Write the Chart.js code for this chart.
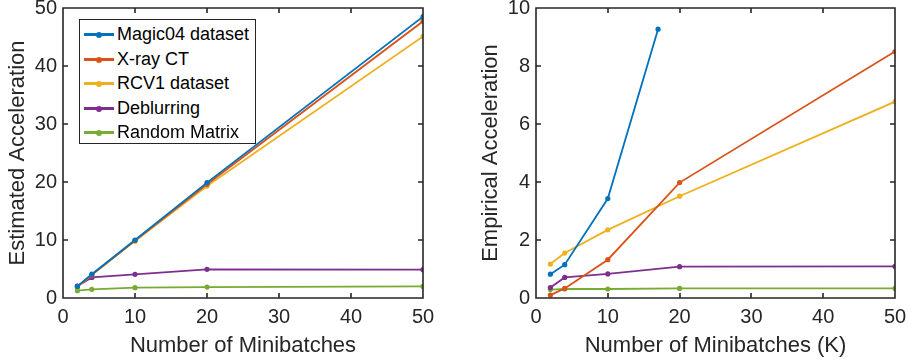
<!DOCTYPE html>
<html lang="en">
<head>
    <meta charset="UTF-8">
    <title>Minibatch acceleration</title>
    <style>
        body { margin: 0; background: #fff; }
        .wrap { position: relative; width: 908px; height: 364px; }
        .box { position: absolute; top: 0; width: 454px; height: 364px; }
        #legend {
            position: absolute; left: 79px; top: 19px; width: 177px; height: 125px;
            border: 1px solid #262626; background: #fff;
            font-family: "Liberation Sans", Arial, sans-serif; font-size: 18px; color: #000;
            box-sizing: border-box; padding-top: 2px;
        }
        #legend .row { position: relative; height: 24.5px; line-height: 24.5px; padding-left: 37px; white-space: nowrap; }
        #legend .ln { position: absolute; left: 4px; top: 11px; width: 30px; height: 3px; }
        #legend .dot { position: absolute; left: 16px; top: 10px; width: 6px; height: 6px; border-radius: 3px; }
    </style>
</head>
<body>
    <div class="wrap">
        <div class="box" style="left:0"><canvas id="chartEst"></canvas></div>
        <div class="box" style="left:454px"><canvas id="chartEmp"></canvas></div>
        <div id="legend"></div>
    </div>
    <script src="https://cdn.jsdelivr.net/npm/chart.js"></script>
    <script>
        // 資料
        const names = ['Magic04 dataset', 'X-ray CT', 'RCV1 dataset', 'Deblurring', 'Random Matrix'];
        const colors = ['#0072BD', '#D95319', '#EDB120', '#7E2F8E', '#77AC30'];
        const batches = [2, 4, 10, 20, 50];
        const batchesMagic = [2, 4, 10, 17];

        // estimated acceleration (left)
        const estMagic = [2.0, 4.1, 10.0, 19.9, 48.5];
        const estXray = [2.0, 4.0, 9.9, 19.6, 47.7];
        const estRcv1 = [1.9, 4.0, 9.8, 19.3, 45.1];
        const estDeblur = [2.05, 3.55, 4.08, 4.94, 4.88];
        const estRandom = [1.26, 1.49, 1.78, 1.89, 2.0];

        // empirical acceleration (right)
        const empMagic = [0.82, 1.15, 3.43, 9.27];
        const empXray = [0.1, 0.33, 1.32, 3.98, 8.5];
        const empRcv1 = [1.17, 1.55, 2.35, 3.51, 6.77];
        const empDeblur = [0.36, 0.71, 0.83, 1.08, 1.09];
        const empRandom = [0.29, 0.31, 0.31, 0.33, 0.33];

        const xTicks = [0, 10, 20, 30, 40, 50];
        const FONT = '"Liberation Sans", Arial, sans-serif';
        const AXIS = '#262626';

        function pts(xs, ys) {
            return ys.map(function (v, i) { return { x: xs[i], y: v }; });
        }

        function makeSets(series) {
            return series.map(function (s, i) {
                return {
                    label: names[i],
                    data: pts(s.x, s.y),
                    borderColor: colors[i],
                    backgroundColor: colors[i],
                    borderWidth: 1.8,
                    pointRadius: 2.6,
                    pointBorderWidth: 0,
                    tension: 0
                };
            });
        }

        // MATLAB風格的外框和內側刻度
        const frame = {
            id: 'frame',
            afterDraw(chart) {
                const { ctx, chartArea: a, scales: { x, y } } = chart;
                const L = Math.round(a.left), R = Math.round(a.right);
                const T = Math.round(a.top), B = Math.round(a.bottom);
                const len = 5;
                ctx.save();
                ctx.strokeStyle = AXIS;
                ctx.lineWidth = 1.6;
                ctx.beginPath();
                ctx.rect(L, T, R - L, B - T);
                x.ticks.forEach(function (t) {
                    const px = Math.round(x.getPixelForValue(t.value));
                    ctx.moveTo(px, B); ctx.lineTo(px, B - len);
                    ctx.moveTo(px, T); ctx.lineTo(px, T + len);
                });
                y.ticks.forEach(function (t) {
                    const py = Math.round(y.getPixelForValue(t.value));
                    ctx.moveTo(L, py); ctx.lineTo(L + len, py);
                    ctx.moveTo(R, py); ctx.lineTo(R - len, py);
                });
                ctx.stroke();
                ctx.restore();
            }
        };

        function makeChart(id, sets, yMax, yStep, yTitle, xTitle, yWidth, padRight, yTitlePad) {
            return new Chart(document.getElementById(id), {
                type: 'line',
                data: { datasets: sets },
                plugins: [frame],
                options: {
                    responsive: false,
                    animation: false,
                    layout: { padding: { top: 8, right: padRight, left: 0, bottom: 0 } },
                    plugins: { legend: { display: false }, tooltip: { enabled: false } },
                    scales: {
                        x: {
                            type: 'linear', min: 0, max: 50,
                            afterBuildTicks: function (s) { s.ticks = xTicks.map(function (v) { return { value: v }; }); },
                            grid: { display: false, drawTicks: false }, border: { display: false },
                            ticks: { color: AXIS, padding: 7, maxRotation: 0, font: { family: FONT, size: 20 } },
                            title: { display: true, text: xTitle, color: AXIS, padding: { top: 0, bottom: 5 }, font: { family: FONT, size: 22 } },
                            afterFit: function (s) { s.height = 66; s.paddingLeft = 0; s.paddingRight = 0; }
                        },
                        y: {
                            min: 0, max: yMax,
                            grid: { display: false, drawTicks: false }, border: { display: false },
                            ticks: { stepSize: yStep, color: AXIS, padding: 6, font: { family: FONT, size: 20 } },
                            title: { display: true, text: yTitle, color: AXIS, padding: { top: yTitlePad, bottom: 0 }, font: { family: FONT, size: 22 } },
                            afterFit: function (s) { s.width = yWidth; s.paddingTop = 0; s.paddingBottom = 0; }
                        }
                    }
                }
            });
        }

        const c1 = document.getElementById('chartEst');
        c1.width = 454; c1.height = 364;
        const c2 = document.getElementById('chartEmp');
        c2.width = 454; c2.height = 364;

        makeChart('chartEst', makeSets([
            { x: batches, y: estMagic },
            { x: batches, y: estXray },
            { x: batches, y: estRcv1 },
            { x: batches, y: estDeblur },
            { x: batches, y: estRandom }
        ]), 50, 10, 'Estimated Acceleration', 'Number of Minibatches', 63, 31, 5);

        makeChart('chartEmp', makeSets([
            { x: batchesMagic, y: empMagic },
            { x: batches, y: empXray },
            { x: batches, y: empRcv1 },
            { x: batches, y: empDeblur },
            { x: batches, y: empRandom }
        ]), 10, 2, 'Empirical Acceleration', 'Number of Minibatches (K)', 82, 13, 24);

        // 圖例
        const lg = document.getElementById('legend');
        names.forEach(function (n, i) {
            const row = document.createElement('div');
            row.className = 'row';
            row.innerHTML = '<span class="ln" style="background:' + colors[i] + '"></span>' +
                '<span class="dot" style="background:' + colors[i] + '"></span>' + n;
            lg.appendChild(row);
        });
    </script>
</body>
</html>
